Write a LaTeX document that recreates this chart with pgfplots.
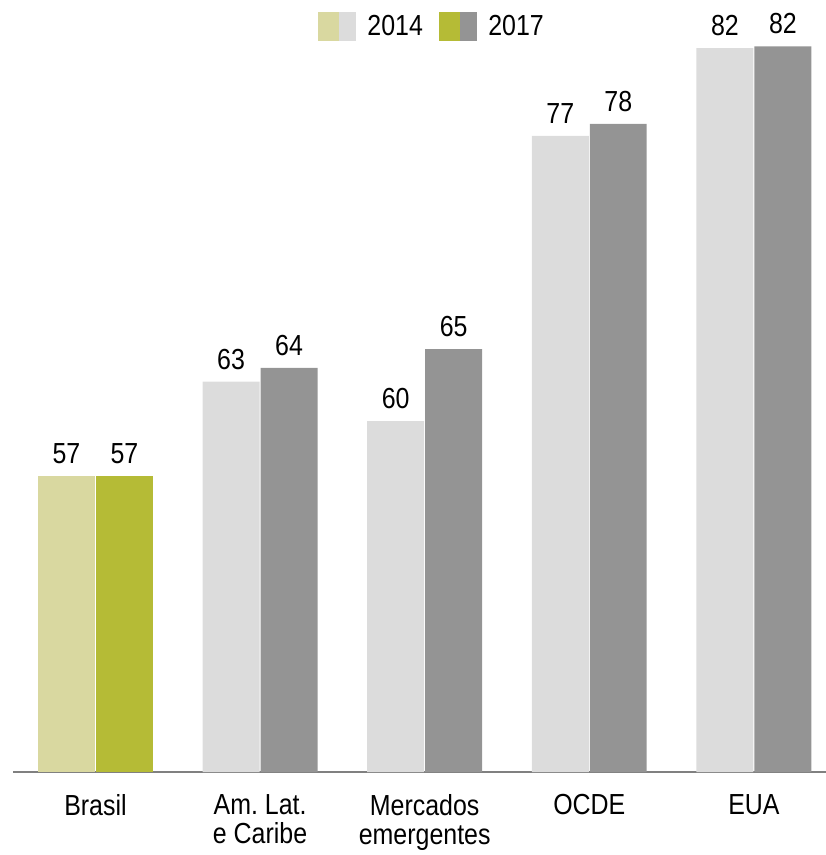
\documentclass[border=0pt]{standalone}
\usepackage{fontspec}
\setmainfont{Liberation Sans}[FakeStretch=0.86]
\usepackage{pgfplots}
\pgfplotsset{compat=1.18}
\definecolor{olL}{RGB}{217,216,160}
\definecolor{olD}{RGB}{181,187,54}
\definecolor{grL}{RGB}{220,220,220}
\definecolor{grD}{RGB}{148,148,148}
\definecolor{axc}{RGB}{128,128,128}
\frenchspacing
\begin{document}
\begin{tikzpicture}
\begin{axis}[
  scale only axis, width=813pt, height=772pt,
  xmin=-0.501, xmax=4.438, ymin=40, ymax=84.9,
  axis x line=bottom, axis y line=none,
  x axis line style={-, draw=axc, line width=1.5pt},
  xtick={0,1,2,3,4},
  xticklabels={Brasil, Am. Lat.\\e Caribe, Mercados\\emergentes, OCDE, EUA},
  major tick length=0pt,
  xticklabel style={align=center, anchor=north, inner sep=0pt, yshift=-22pt, font=\fontsize{29}{29}\selectfont},
  ybar, bar width=0.346,
  point meta=explicit symbolic,
  nodes near coords={\pgfplotspointmeta},
  nodes near coords style={anchor=south, inner sep=0pt, yshift=12pt, font=\fontsize{29}{29}\selectfont, text=black},
  legend style={at={(0.375,0.985)}, anchor=north west, draw=none, fill=none, inner sep=0pt,
    font=\fontsize{29}{29}\selectfont, legend columns=2,
    /tikz/every odd column/.append style={column sep=10pt},
    /tikz/every even column/.append style={column sep=14pt}},
]
\addplot[fill=grL, draw=none, bar shift=-0.176, forget plot] coordinates {(1,62.7) [63] (2,60.4) [60] (3,77.0) [77] (4,82.1) [82]};
\addplot[fill=grD, draw=none, bar shift=0.176, forget plot] coordinates {(1,63.5) [64] (2,64.6) [65] (3,77.7) [78] (4,82.2) [82]};
\addplot[fill=olL, draw=none, bar shift=-0.176, forget plot] coordinates {(0,57.2) [57]};
\addplot[fill=olD, draw=none, bar shift=0.176, forget plot] coordinates {(0,57.2) [57]};
\addlegendimage{legend image code/.code={\fill[olL] (0pt,-14pt) rectangle (21pt,14pt); \fill[grL] (21pt,-14pt) rectangle (37pt,14pt);}}
\addlegendentry{2014}
\addlegendimage{legend image code/.code={\fill[olD] (0pt,-14pt) rectangle (21pt,14pt); \fill[grD] (21pt,-14pt) rectangle (37pt,14pt);}}
\addlegendentry{2017}
\end{axis}
\pgfresetboundingbox
\path (-13pt,-83pt) rectangle (813pt,772pt);
\end{tikzpicture}
\end{document}
